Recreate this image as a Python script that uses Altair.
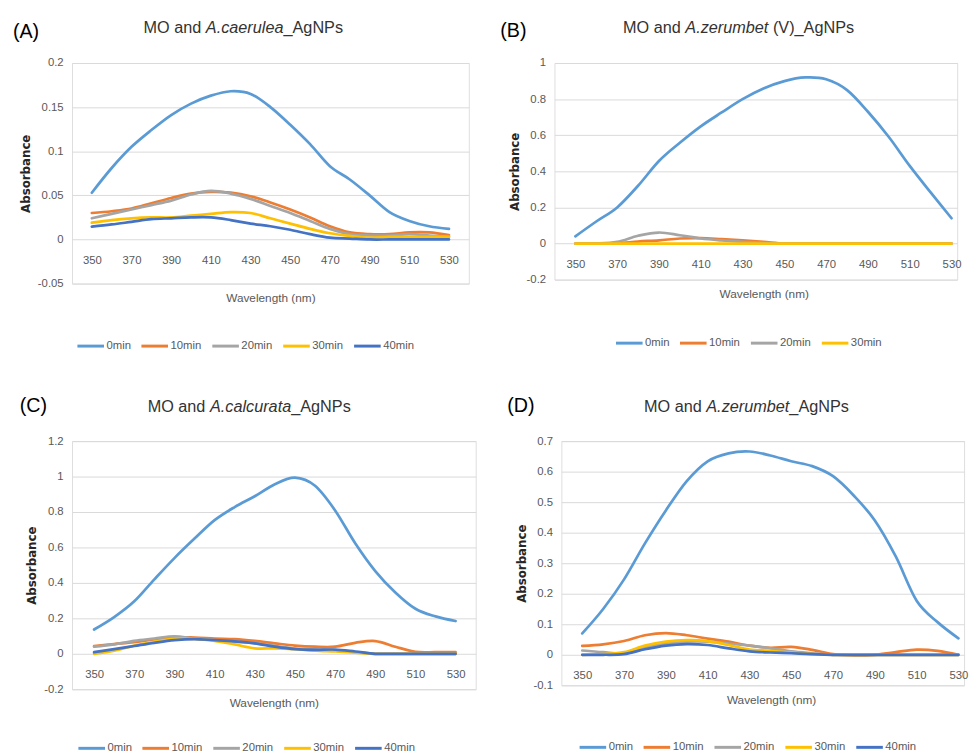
import altair as alt
import pandas as pd

FONT = "Liberation Sans"

# ---------------- data ----------------
WAVELENGTH = [350, 360, 370, 380, 390, 400, 410, 420, 430, 440, 450, 460, 470, 480, 490, 500, 510, 520, 530]
X_TICKS = [350, 370, 390, 410, 430, 450, 470, 490, 510, 530]

SERIES5 = ["0min", "10min", "20min", "30min", "40min"]
SERIES4 = ["0min", "10min", "20min", "30min"]
COLORS5 = ["#5B9BD5", "#ED7D31", "#A5A5A5", "#FFC000", "#4472C4"]
COLORS4 = ["#5B9BD5", "#ED7D31", "#A5A5A5", "#FFC000"]

# (A) MO and A.caerulea_AgNPs
A_0 = [0.053, 0.081, 0.105, 0.124, 0.141, 0.154, 0.163, 0.168, 0.165, 0.150, 0.130, 0.108, 0.083, 0.068, 0.050, 0.031, 0.021, 0.015, 0.012]
A_10 = [0.030, 0.032, 0.035, 0.041, 0.047, 0.052, 0.054, 0.053, 0.049, 0.042, 0.034, 0.025, 0.015, 0.008, 0.006, 0.006, 0.008, 0.008, 0.005]
A_20 = [0.024, 0.029, 0.034, 0.039, 0.044, 0.051, 0.055, 0.052, 0.046, 0.038, 0.030, 0.021, 0.012, 0.006, 0.0045, 0.0045, 0.006, 0.0045, 0.003]
A_30 = [0.019, 0.022, 0.024, 0.025, 0.025, 0.027, 0.029, 0.031, 0.030, 0.024, 0.018, 0.012, 0.007, 0.004, 0.002, 0.003, 0.003, 0.003, 0.003]
A_40 = [0.0145, 0.017, 0.020, 0.023, 0.024, 0.025, 0.025, 0.022, 0.018, 0.015, 0.011, 0.006, 0.002, 0.001, 0.0, 0.0, 0.0, 0.0, 0.0]

# (B) MO and A.zerumbet (V)_AgNPs
B_0 = [0.040, 0.122, 0.200, 0.320, 0.457, 0.558, 0.649, 0.726, 0.800, 0.859, 0.900, 0.920, 0.910, 0.850, 0.730, 0.590, 0.430, 0.283, 0.140]
B_10 = [0.0, 0.0, 0.002, 0.011, 0.018, 0.028, 0.030, 0.024, 0.017, 0.009, 0.0, 0.0, 0.0, 0.0, 0.0, 0.0, 0.0, 0.0, 0.0]
B_20 = [0.0, 0.0, 0.009, 0.043, 0.061, 0.046, 0.028, 0.017, 0.009, 0.004, 0.0, 0.0, 0.0, 0.0, 0.0, 0.0, 0.0, 0.0, 0.0]
B_30 = [0.0, 0.0, 0.0, 0.0, 0.0, 0.0, 0.0, 0.0, 0.0, 0.0, 0.0, 0.0, 0.0, 0.0, 0.0, 0.0, 0.0, 0.0, 0.0]

# (C) MO and A.calcurata_AgNPs
C_0 = [0.137, 0.207, 0.296, 0.420, 0.540, 0.650, 0.754, 0.828, 0.889, 0.957, 0.994, 0.948, 0.809, 0.624, 0.467, 0.346, 0.254, 0.211, 0.185]
C_10 = [0.044, 0.055, 0.066, 0.081, 0.090, 0.092, 0.086, 0.083, 0.073, 0.059, 0.046, 0.040, 0.040, 0.062, 0.072, 0.040, 0.011, 0.009, 0.009]
C_20 = [0.040, 0.053, 0.073, 0.086, 0.099, 0.086, 0.077, 0.068, 0.060, 0.045, 0.030, 0.025, 0.020, 0.010, 0.0, 0.0, 0.0, 0.0, 0.0]
C_30 = [0.0, 0.018, 0.046, 0.068, 0.084, 0.084, 0.073, 0.053, 0.031, 0.031, 0.026, 0.018, 0.013, 0.007, 0.0, 0.0, 0.0, 0.0, 0.0]
C_40 = [0.009, 0.026, 0.044, 0.062, 0.077, 0.083, 0.077, 0.070, 0.059, 0.040, 0.026, 0.022, 0.024, 0.013, 0.0, 0.0, 0.0, 0.0, 0.0]

# (D) MO and A.zerumbet_AgNPs
D_0 = [0.070, 0.150, 0.247, 0.365, 0.473, 0.569, 0.634, 0.660, 0.666, 0.653, 0.634, 0.618, 0.585, 0.521, 0.440, 0.322, 0.177, 0.107, 0.054]
D_10 = [0.029, 0.034, 0.045, 0.064, 0.071, 0.064, 0.053, 0.043, 0.030, 0.023, 0.026, 0.016, 0.002, -0.002, 0.0, 0.0085, 0.017, 0.013, 0.0]
D_20 = [0.014, 0.0085, 0.005, 0.023, 0.037, 0.043, 0.043, 0.037, 0.030, 0.021, 0.011, 0.005, 0.0, 0.0, 0.0, 0.0, 0.0, 0.0, 0.0]
D_30 = [0.0, 0.002, 0.0085, 0.030, 0.043, 0.048, 0.045, 0.032, 0.017, 0.013, 0.007, 0.002, 0.0, 0.0, 0.0, 0.0, 0.0, 0.0, 0.0]
D_40 = [0.0, 0.0, 0.002, 0.018, 0.030, 0.035, 0.032, 0.021, 0.011, 0.0075, 0.005, 0.002, 0.0, 0.0, 0.0, 0.0, 0.0, 0.0, 0.0]

A_TICKS = [-0.05, 0, 0.05, 0.1, 0.15, 0.2]
B_TICKS = [-0.2, 0, 0.2, 0.4, 0.6, 0.8, 1]
C_TICKS = [-0.2, 0, 0.2, 0.4, 0.6, 0.8, 1, 1.2]
D_TICKS = [-0.1, 0, 0.1, 0.2, 0.3, 0.4, 0.5, 0.6, 0.7]

# Arial / Liberation Sans advance widths (per 1000 em) for title layout
ARIAL = {' ': 278, '.': 278, '_': 556, '(': 333, ')': 333,
         'A': 667, 'M': 833, 'O': 778, 'N': 722, 'P': 667, 'V': 667,
         'a': 556, 'b': 556, 'c': 500, 'd': 556, 'e': 556, 'g': 556, 'l': 222,
         'm': 833, 'n': 556, 'r': 333, 's': 500, 't': 278, 'u': 556, 'z': 500}


def tw(s, size):
    return sum(ARIAL.get(c, 556) for c in s) * size / 1000.0


def text_layer(s, x, y, size, style="normal", weight="normal", color="#333333"):
    return alt.Chart(pd.DataFrame({"t": [s]})).mark_text(
        align="left", baseline="middle", font=FONT, fontSize=size,
        fontStyle=style, fontWeight=weight, color=color
    ).encode(x=alt.value(x), y=alt.value(y), text="t:N")


def panel(tag, tag_x, tag_y, pre, ita, suf, title_cx, title_cy,
          series, colors, values, width, height, xdom, ydom, yticks,
          legend_x, legend_y, xtitle_x=None):
    rows = []
    for name, vals in zip(series, values):
        for w, v in zip(WAVELENGTH, vals):
            rows.append({"wl": w, "abs": v, "series": name})
    df = pd.DataFrame(rows)

    zero_from_bottom = height * (0 - ydom[0]) / (ydom[1] - ydom[0])
    xaxis_kw = dict(
        values=X_TICKS, title="Wavelength (nm)", grid=False, domain=False, ticks=False,
        labelPadding=15.5, offset=-zero_from_bottom, labelFontSize=11.5, labelFont=FONT,
        labelColor="#595959", titleFont=FONT, titleFontSize=12, titleFontWeight="normal",
        titleColor="#595959", titleBaseline="middle", titleY=zero_from_bottom + 14,
    )
    if xtitle_x is not None:
        xaxis_kw["titleX"] = xtitle_x

    lines = alt.Chart(df).mark_line(
        interpolate="cardinal", strokeWidth=2.75, strokeCap="round", strokeJoin="round"
    ).encode(
        x=alt.X("wl:Q", scale=alt.Scale(domain=xdom, nice=False, zero=False),
                axis=alt.Axis(**xaxis_kw)),
        y=alt.Y("abs:Q", scale=alt.Scale(domain=ydom, nice=False, zero=False),
                axis=alt.Axis(values=yticks, title="Absorbance", grid=True,
                              gridColor="#D9D9D9", gridWidth=1, domain=False, ticks=False,
                              labelPadding=9, labelExpr="datum.value + ''",
                              labelFontSize=11.5, labelFont=FONT, labelColor="#595959",
                              titleFont="DejaVu Sans", titleFontSize=12, titleFontWeight="bold",
                              titleColor="#262626", titlePadding=5)),
        color=alt.Color("series:N", scale=alt.Scale(domain=series, range=colors),
                        legend=alt.Legend(orient="none", legendX=legend_x, legendY=legend_y,
                                          direction="horizontal", title=None,
                                          symbolType="stroke", symbolStrokeWidth=3,
                                          symbolSize=729, labelFontSize=11.5, labelFont=FONT,
                                          labelColor="#595959", labelOffset=1,
                                          columnPadding=4, padding=0)),
    )

    size = 16.5
    w_pre = tw(pre, size)
    w_ita = tw(ita, size)
    w_suf = tw(suf, size)
    x0 = title_cx - (w_pre + w_ita + w_suf) / 2.0
    suf_strip = suf.lstrip()
    layers = [
        lines,
        text_layer(tag, tag_x, tag_y, 20, color="#000000"),
        text_layer(pre.strip(), x0, title_cy, size),
        text_layer(ita, x0 + w_pre, title_cy, size, style="italic"),
        text_layer(suf_strip, x0 + w_pre + w_ita + (w_suf - tw(suf_strip, size)), title_cy, size),
    ]
    return alt.layer(*layers).properties(width=width, height=height)


pA = panel("(A)", -60, -31.5, "MO and ", "A.caerulea", "_AgNPs", 174, -35,
           SERIES5, COLORS5, [A_0, A_10, A_20, A_30, A_40], 403, 224, [340, 540], [-0.05, 0.2], A_TICKS,
           4, 272.5)
pB = panel("(B)", -55, -32, "MO and ", "A.zerumbet", " (V)_AgNPs", 187, -35,
           SERIES4, COLORS4, [B_0, B_10, B_20, B_30], 409, 220, [340, 532.7], [-0.2, 1], B_TICKS,
           61, 269.5, xtitle_x=212.5)
pC = panel("(C)", -53, -35.5, "MO and ", "A.calcurata", "_AgNPs", 180, -34.5,
           SERIES5, COLORS5, [C_0, C_10, C_20, C_30, C_40], 410, 252, [339, 540], [-0.2, 1.2], C_TICKS,
           5, 297)
pD = panel("(D)", -55, -35.5, "MO and ", "A.zerumbet", "_AgNPs", 188, -34.5,
           SERIES5, COLORS5, [D_0, D_10, D_20, D_30, D_40], 409, 248, [340, 532.7], [-0.1, 0.7], D_TICKS,
           17, 296, xtitle_x=213)

row1 = alt.hconcat(pA, pB, spacing=30).resolve_scale(x="independent", y="independent", color="independent").resolve_legend(color="independent")
row2 = alt.hconcat(pC, pD, spacing=30).resolve_scale(x="independent", y="independent", color="independent").resolve_legend(color="independent")

chart = alt.vconcat(row1, row2, spacing=44).resolve_scale(
    x="independent", y="independent", color="independent"
).resolve_legend(color="independent").properties(
    padding={"left": 4, "top": 6, "right": 0, "bottom": 0},
    background="white",
).configure_view(stroke=None).configure(font=FONT)

chart.save("out.html", embed_options={"renderer": "svg", "actions": False})
